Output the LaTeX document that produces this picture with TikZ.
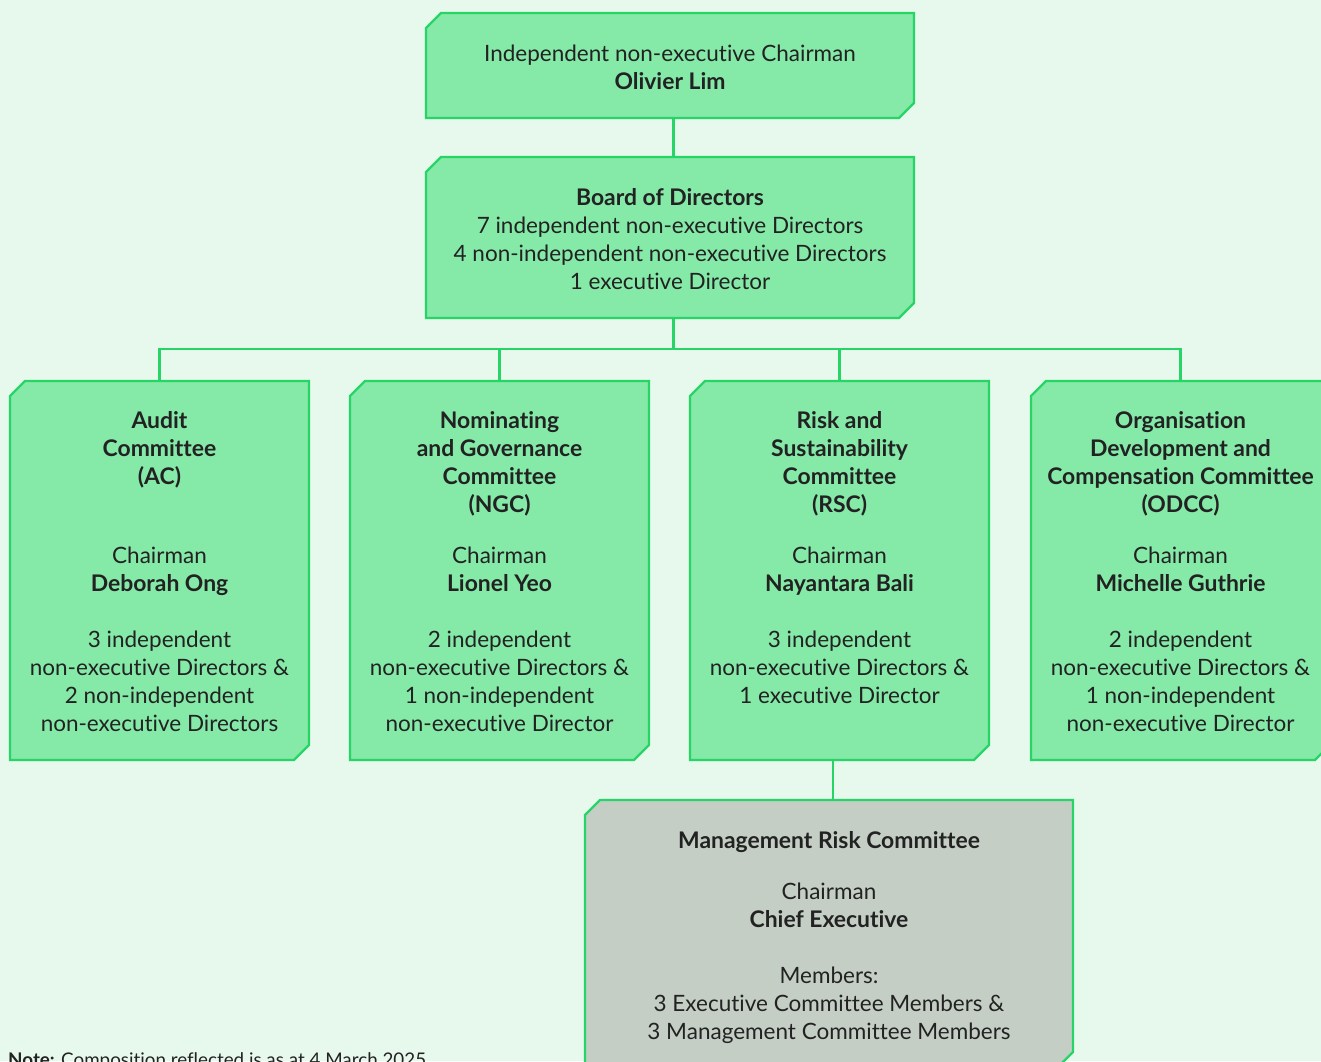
\documentclass[tikz,border=0pt]{standalone}
\usepackage{fontspec}
\setmainfont{Lato}[Ligatures=NoCommon]
\usetikzlibrary{fit}
\definecolor{bgc}{HTML}{E7F9ED}
\definecolor{boxf}{HTML}{85E9A8}
\definecolor{boxd}{HTML}{27D567}
\definecolor{greyf}{HTML}{C4CEC5}
\definecolor{txtc}{HTML}{222222}
\newcommand\fs{\rule{0pt}{20pt}}
\newcommand\B[1]{{\fontsize{22.9}{28}\selectfont\bfseries #1}}
\newcommand\chbox[6]{%
  \filldraw[boxline, fill=#6] (#2,#3+15) -- (#2+15,#3) -- (#4,#3) -- (#4,#5-15) -- (#4-15,#5) -- (#2,#5) -- cycle;
  \node[fit={(#2,#3) (#4,#5)}, inner sep=0pt] (#1) {};
}
\tikzset{
  boxline/.style={draw=boxd, line width=2.3pt, line join=miter},
  conn/.style={draw=boxd, line width=2.3pt},
  txt/.style={align=center, inner sep=0pt, anchor=north, text=txtc, font=\fontsize{22.5}{28}\selectfont},
  note/.style={inner sep=0pt, anchor=base west, text=txtc, font=\fontsize{18.8}{22}\selectfont}
}
\begin{document}
\begin{tikzpicture}[x=1pt,y=-1pt]
\useasboundingbox (0,0) rectangle (1321,1061);
\fill[bgc] (0,0) rectangle (1321,1061);
\clip (0,0) rectangle (1321,1061);

\chbox{chair}{426}{13}{914}{118}{boxf}
\chbox{board}{426}{157}{914}{318}{boxf}
\chbox{ac}{10}{381}{309}{760}{boxf}
\chbox{ngc}{350}{381}{649}{760}{boxf}
\chbox{rsc}{690}{381}{989}{760}{boxf}
\chbox{odcc}{1031}{381}{1330}{760}{boxf}
\chbox{mrc}{585}{800}{1073}{1067}{greyf}

\coordinate (tx) at (673.5,0);
\coordinate (mx) at (833,0);
\draw[conn] (chair.south -| tx) -- (board.north -| tx);
\draw[conn] (board.south -| tx) -- ++(0,31) coordinate (bus);
\draw[conn] (ac.north) -- (ac.north |- bus) -- (odcc.north |- bus) -- (odcc.north);
\draw[conn] (ngc.north) -- (ngc.north |- bus);
\draw[conn] (rsc.north) -- (rsc.north |- bus);
\draw[conn] (rsc.south -| mx) -- (mrc.north -| mx);

\node[txt] (t1) at (670,41) {\fs Independent non-executive Chairman\\ \B{Olivier Lim}};
\node[txt] (t2) at (670,185) {\fs\B{Board of Directors}\\ 7 independent non-executive Directors\\ 4 non-independent non-executive Directors\\ 1 executive Director};

\node[txt] (a1) at (159.5,408) {\fs\B{Audit}\\ \B{Committee}\\ \B{(AC)}};
\node[txt] (a2) at (159.5,543) {\fs Chairman\\ \B{Deborah Ong}\\[28pt] 3 independent\\ non-executive Directors \&\\ 2 non-independent\\ non-executive Directors};

\node[txt] (n1) at (499.5,408) {\fs\B{Nominating}\\ \B{and Governance}\\ \B{Committee}\\ \B{(NGC)}};
\node[txt] (n2) at (499.5,543) {\fs Chairman\\ \B{Lionel Yeo}\\[28pt] 2 independent\\ non-executive Directors \&\\ 1 non-independent\\ non-executive Director};

\node[txt] (r1) at (839.5,408) {\fs\B{Risk and}\\ \B{Sustainability}\\ \B{Committee}\\ \B{(RSC)}};
\node[txt] (r2) at (839.5,543) {\fs Chairman\\ \B{Nayantara Bali}\\[28pt] 3 independent\\ non-executive Directors \&\\ 1 executive Director};

\node[txt] (o1) at (1180.5,408) {\fs\B{Organisation}\\ \B{Development and}\\ \B{Compensation Committee}\\ \B{(ODCC)}};
\node[txt] (o2) at (1180.5,543) {\fs Chairman\\ \B{Michelle Guthrie}\\[28pt] 2 independent\\ non-executive Directors \&\\ 1 non-independent\\ non-executive Director};

\node[txt] (m1) at (829,828) {\fs\B{Management Risk Committee}};
\node[txt] (m2) at (829,879) {\fs Chairman\\ \B{Chief Executive}\\[28pt] Members:\\ 3 Executive Committee Members \&\\ 3 Management Committee Members};

\node[note] (nt) at (8,1066) {\textbf{Note:} Composition reflected is as at 4 March 2025};
\end{tikzpicture}
\end{document}
